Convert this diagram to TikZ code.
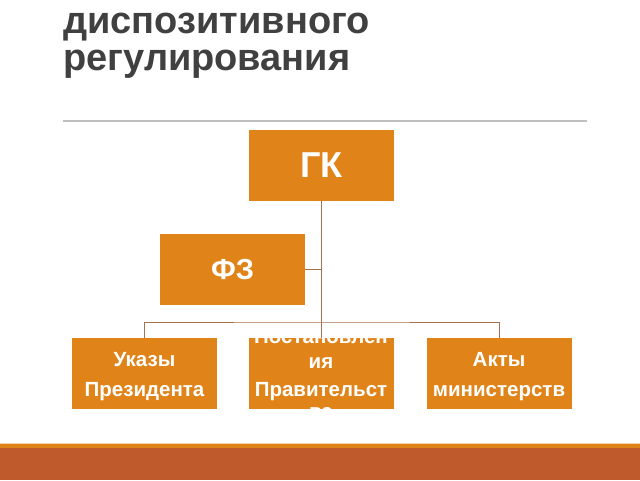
\documentclass[tikz,border=0pt]{standalone}
\usepackage{fontspec}
\setmainfont{Liberation Sans}
\definecolor{boxor}{HTML}{E0841A}
\definecolor{bandred}{HTML}{BE5A2B}
\definecolor{bandor}{HTML}{DE8419}
\definecolor{linkc}{HTML}{A5714F}
\definecolor{titlec}{HTML}{404040}
\definecolor{rulec}{HTML}{BFBFBF}
\tikzset{
  orbox/.style={fill=boxor, draw=none, minimum width=145pt, minimum height=71pt, inner sep=0pt},
  btxt/.style={text=white, font=\bfseries\fontsize{20.5}{24}\selectfont, anchor=base, inner sep=0pt},
  ttl/.style={text=titlec, font=\bfseries\fontsize{38}{40}\selectfont, anchor=base west, inner sep=0pt},
  link/.style={draw=linkc, line width=1pt}
}
\begin{document}
\begin{tikzpicture}[x=1pt,y=-1pt]
\useasboundingbox (0,0) rectangle (640,480);
\fill[white] (0,0) rectangle (640,480);
% title
\node[ttl] (t1) at (63,33) {диспозитивного};
\node[ttl] (t2) at (63,70) {регулирования};
\draw[rulec, line width=1.2pt] (63,121) -- (587,121);
% boxes
\node[orbox] (gk) at (321.5,165.5) {};
\node[text=white, font=\bfseries\fontsize{36}{40}\selectfont] (gkt) at (gk.center) {ГК};
\node[orbox] (fz) at (232.5,269.5) {};
\node[text=white, font=\bfseries\fontsize{29}{32}\selectfont] (fzt) at (fz.center) {ФЗ};
\node[orbox] (l) at (144.5,373.5) {};
\node[orbox] (m) at (321,373.5) {};
\node[orbox] (r) at (499,373.5) {};
\node[btxt] (l1) at (144.5,366) {Указы};
\node[btxt] (l2) at (144.5,396) {Президента};
\node[btxt] (r1) at (499,366) {Акты};
\node[btxt] (r2) at (499,396) {министерств};
\begin{scope}
\clip (m.south west) rectangle (m.north east);
\node[btxt] (m1) at (321,343.5) {Постановлен};
\node[btxt] (m2) at (321,368) {ия};
\node[btxt] (m3) at (321,396) {Правительст};
\node[btxt] (m4) at (321,418) {ва};
\end{scope}
% connectors
\coordinate (bar) at (321.5,322);
\draw[link] (gk.south) -- (bar);
\draw[link] (fz.east) -- (fz.east -| gk.south);
\draw[link] (l.north) |- (bar) -| (r.north);
\draw[link] (m.north) -- (m.north |- bar);
% bottom band
\fill[bandor!35] (0,442.5) rectangle (640,443.5);
\fill[bandor] (0,443.5) rectangle (640,448);
\fill[bandred] (0,448) rectangle (640,480);
\end{tikzpicture}
\end{document}
